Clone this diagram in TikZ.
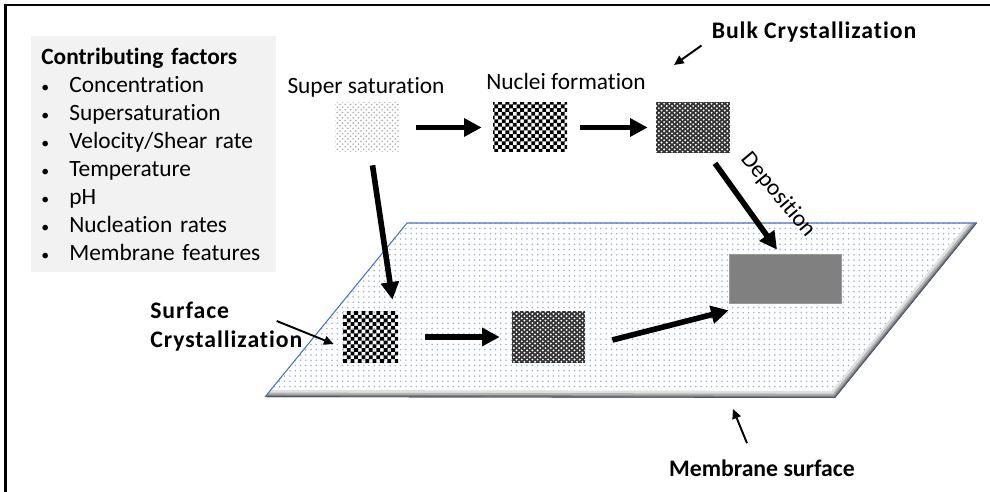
\documentclass[tikz,border=0pt]{standalone}
\usepackage{fontspec}
\setmainfont{Carlito}[Ligatures=NoCommon]
\usetikzlibrary{arrows.meta,patterns}

\definecolor{edgeblue}{RGB}{68,114,196}
\definecolor{dotblue}{RGB}{150,178,222}
\definecolor{panel}{RGB}{242,242,242}

% finer textures for the crystals
\pgfdeclarepatternformonly{finechecker}{\pgfpointorigin}{\pgfqpoint{4.25pt}{4.25pt}}{\pgfqpoint{4.2pt}{4.2pt}}{%
  \pgfpathrectangle{\pgfpointorigin}{\pgfqpoint{2.15pt}{2.15pt}}%
  \pgfpathrectangle{\pgfqpoint{2.1pt}{2.1pt}}{\pgfqpoint{2.15pt}{2.15pt}}%
  \pgfusepath{fill}}
\pgfdeclarepatternformonly{beads}{\pgfqpoint{-0.7pt}{-0.7pt}}{\pgfqpoint{2.3pt}{2.1pt}}{\pgfqpoint{3pt}{2.6pt}}{%
  \pgfpathcircle{\pgfpointorigin}{0.6pt}%
  \pgfpathcircle{\pgfqpoint{1.5pt}{1.3pt}}{0.6pt}%
  \pgfusepath{fill}}

\tikzstyle{crystal}=[shape=rectangle,
                inner sep=0pt,
                minimum height=0.98cm]
\tikzstyle{beaded}=[preaction={fill=black!80},
                pattern=beads,
                pattern color=white]
\tikzstyle{lbl}=[inner sep=0pt,
                font=\fontsize{13.3}{15}\selectfont]
\tikzstyle{tag}=[inner sep=0pt,
                font=\fontsize{13.5}{16.5}\selectfont\bfseries]
\tikzstyle{bigarrow}=[-{Triangle[length=10pt,width=10pt]},
                line width=3.2pt]
\tikzstyle{thinarrow}=[-{Triangle[length=5.5pt,width=5pt]},
                line width=1.1pt]

\newcommand{\factor}{\makebox[0.56cm][l]{\fontsize{9}{9}\selectfont\textbullet}}
\newcommand{\spread}{\addfontfeature{LetterSpace=4}}

\begin{document}
\begin{tikzpicture}[x=0.02cm, y=-0.02cm]
\useasboundingbox (0,0) rectangle (990,492);

% frame
\draw[line width=1.4pt] (5.5,492) -- (5.5,5) -- (990,5);

% membrane
\path[pattern=dots, pattern color=dotblue] (407,223) -- (977,223) -- (835,398) -- (265,397) -- cycle;
\begin{scope}
\clip (407,223) -- (977,223) -- (835,398) -- (265,397) -- cycle;
\draw[line width=8pt, black!12] (977,223) -- (835,398) -- (265,397);
\draw[line width=5pt, black!30] (977,223) -- (835,398) -- (265,397);
\draw[line width=2.6pt, black!50] (977,223) -- (835,398) -- (265,397);
\draw[line width=1pt, edgeblue!40!black!80] (977,223) -- (835,398) -- (265,397);
\end{scope}
\draw[edgeblue, line width=0.6pt] (265,397) -- (407,223) -- (977,223);
\coordinate (memedge) at (733,409);

% contributing factors
\node[fill=panel, anchor=north west, inner xsep=0.2cm, inner ysep=0pt,
      text width=4.5cm, minimum height=4.72cm, align=left,
      font=\fontsize{13.3}{16}\selectfont] (factors) at (31,36)
     {{\bfseries Contributing factors}\\
      \factor Concentration\\
      \factor Supersaturation\\
      \factor Velocity/Shear rate\\
      \factor Temperature\\
      \factor pH\\
      \factor Nucleation rates\\
      \factor Membrane features};

% crystals
\node[crystal, minimum width=1.3cm, pattern=crosshatch dots, pattern color=black!35] (ss) at (367.5,127.5) {};
\node[crystal, minimum width=1.48cm, pattern=finechecker] (nf) at (530,127.5) {};
\node[crystal, beaded, minimum width=1.48cm, minimum height=1.02cm] (bulk) at (693,127.5) {};
\node[crystal, minimum width=1.1cm, minimum height=1.04cm, pattern=finechecker] (sc1) at (370.5,337) {};
\node[crystal, beaded, minimum width=1.46cm, minimum height=1.04cm] (sc2) at (548.5,337) {};
\node[crystal, minimum width=2.24cm, fill=black!50, draw=black!40, thin] (dep) at (785,278.5) {};

% labels
\node[lbl] (sstxt) at (366,87) {Super saturation};
\node[lbl] (nftxt) at (566,81) {Nuclei formation};
\node[lbl, rotate=-50] (deptxt) at (778,195) {Deposition};
\node[tag] (bulktxt) at (814,32) {\spread Bulk Crystallization};
\node[tag, align=left, anchor=west] (surftxt) at (150,327) {\spread Surface\\\spread Crystallization};
\node[tag] (memtxt) at (762,468) {Membrane surface};
\coordinate (bulkpt) at (674,65);

% paths
\draw[bigarrow, shorten <=0.32cm, shorten >=0.22cm] (ss) -- (nf);
\draw[bigarrow, shorten <=0.26cm, shorten >=0.16cm] (nf) -- (bulk);
\draw[bigarrow] ([shift={(5,13)}]ss.south) -- ([shift={(22,-11)}]sc1.north);
\draw[bigarrow, shorten <=0.54cm, shorten >=0.24cm] (sc1) -- (sc2);
\draw[bigarrow] ([shift={(22,10)}]bulk.south) -- ([shift={(-8,-4)}]dep.north);
\draw[bigarrow] ([shift={(27,3)}]sc2.east) -- ([shift={(0,7)}]dep.south west);

\draw[thinarrow] ([shift={(-10,3)}]bulktxt.south west) -- (bulkpt);
\draw[thinarrow] ([shift={(-26,-6)}]surftxt.east) -- ([shift={(-9,7)}]sc1.west);
\draw[thinarrow] ([shift={(-15,-16)}]memtxt.north) -- (memedge);
\end{tikzpicture}
\end{document}
